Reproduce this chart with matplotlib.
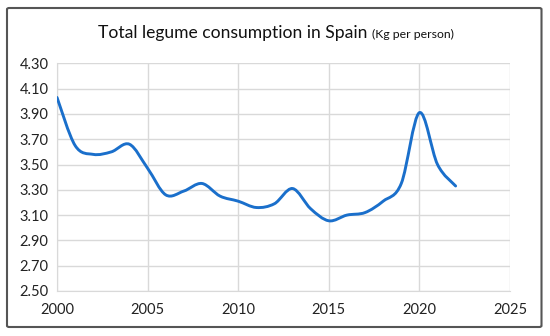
import numpy as np
import matplotlib
matplotlib.use("Agg")
import matplotlib.pyplot as plt
from matplotlib.path import Path
from matplotlib.patches import PathPatch, FancyBboxPatch

years = [2000, 2001, 2002, 2003, 2004, 2005, 2006, 2007, 2008, 2009, 2010, 2011,
         2012, 2013, 2014, 2015, 2016, 2017, 2018, 2019, 2020, 2021, 2022]
consumption = [4.03, 3.65, 3.58, 3.60, 3.66, 3.47, 3.26, 3.29, 3.35, 3.25, 3.21, 3.16,
               3.19, 3.31, 3.15, 3.055, 3.10, 3.12, 3.21, 3.35, 3.91, 3.50, 3.33]
y_ticks = [2.50, 2.70, 2.90, 3.10, 3.30, 3.50, 3.70, 3.90, 4.10, 4.30]
x_ticks = [2000, 2005, 2010, 2015, 2020, 2025]
title_main = "Total legume consumption in Spain"
title_unit = "(Kg per person)"

plt.rcParams['font.family'] = ['Lato', 'DejaVu Sans']

fig = plt.figure(figsize=(5.5, 3.36), dpi=100)
ax = fig.add_axes([57/550, 1-291/336, (510-57)/550, (291-63.3)/336])

# Smoothed line (Excel-style Bezier) through the data points
x = np.array(years, dtype=float)
y = np.array(consumption, dtype=float)
n = len(x)
verts = [(x[0], y[0])]
codes = [Path.MOVETO]
t = 1/6
for i in range(n - 1):
    p0 = (x[max(i-1, 0)], y[max(i-1, 0)])
    p1 = (x[i], y[i])
    p2 = (x[i+1], y[i+1])
    p3 = (x[min(i+2, n-1)], y[min(i+2, n-1)])
    c1 = (p1[0] + (p2[0]-p0[0])*t, p1[1] + (p2[1]-p0[1])*t)
    c2 = (p2[0] - (p3[0]-p1[0])*t, p2[1] - (p3[1]-p1[1])*t)
    verts += [c1, c2, p2]
    codes += [Path.CURVE4]*3
patch = PathPatch(Path(verts, codes), facecolor='none', edgecolor='#1a6fcb',
                  lw=2.1, capstyle='round', joinstyle='round', zorder=3)
ax.add_patch(patch)

ax.set_xlim(2000, 2025)
ax.set_ylim(2.50, 4.30)
ax.set_xticks(x_ticks)
ax.set_yticks(y_ticks)
ax.set_yticklabels([f"{v:.2f}" for v in y_ticks])
ax.grid(True, color='#d9d9d9', lw=1.0)
for s in ax.spines.values():
    s.set_visible(False)
ax.spines['left'].set_visible(True)
ax.spines['left'].set_color('#d9d9d9')
ax.spines['bottom'].set_visible(True)
ax.spines['bottom'].set_color('#d9d9d9')
ax.tick_params(length=0, labelsize=10.5, colors='#222222', pad=6)
ax.tick_params(axis='x', pad=9)
ax.set_axisbelow(True)

# Title: main text and smaller unit text, placed side by side
t1 = fig.text(97/550, 1-38/336, title_main, ha='left', va='baseline',
              fontsize=12.6, color='#111111')
fig.canvas.draw()
r = fig.canvas.get_renderer()
w1 = t1.get_window_extent(r).width
t2 = fig.text(0, 1-38/336, title_unit, ha='left', va='baseline',
              fontsize=8.8, color='#111111')
w2 = t2.get_window_extent(r).width
gap = 4
total = w1 + gap + w2
start = 276 - total/2
t1.set_x(start/550)
t2.set_x((start + w1 + gap)/550)

border = FancyBboxPatch((7/550, 1-327/336), (541.5-7)/550, (327-8)/336,
                        boxstyle="round,pad=0,rounding_size=0.004", transform=fig.transFigure,
                        facecolor='none', edgecolor='#555555', lw=1.5)
fig.patches.append(border)

fig.savefig("out.png", dpi=100)
